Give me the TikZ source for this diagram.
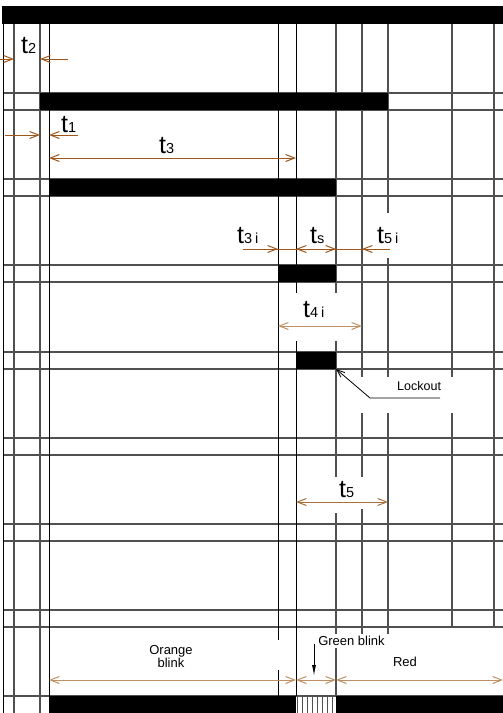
\documentclass[tikz,border=0pt]{standalone}
\usepackage{fontspec}
\setmainfont{Liberation Sans}
\usetikzlibrary{arrows.meta}
\definecolor{gridgray}{RGB}{80,80,80}
\definecolor{dimbrown}{RGB}{160,85,25}
\definecolor{dimmid}{RGB}{170,110,55}
\definecolor{dimtan}{RGB}{190,145,100}
\newcommand{\tsym}[1]{{\fontsize{25}{25}\selectfont t}{\fontsize{14.5}{14.5}\selectfont #1}}
\tikzset{
  gline/.style={gridgray, line width=1.15pt},
  bline/.style={black, line width=1pt},
  hatchline/.style={gridgray, line width=0.8pt},
  dimline/.style={line width=1pt},
  tlabel/.style={inner sep=0pt, anchor=base west},
  smalltext/.style={inner sep=0pt, font=\fontsize{13}{13}\selectfont},
  leader/.style={black, line width=0.8pt, -{Straight Barb[length=8pt,width=6pt]}},
  downarrow/.style={black, line width=0.9pt, -{Latex[length=11pt,width=4pt]}},
}
\begin{document}
\begin{tikzpicture}[x=1pt, y=-1pt, >={Straight Barb[length=9pt,width=7pt]}]
\useasboundingbox (0,0) rectangle (503,713);

% horizontal grid lines
\foreach \yy in {93,110,179,196,265,282,352,369,438,455,524,541,610,627,696}
  \draw[gline] (3,\yy) -- (503,\yy);

% vertical grid lines
\draw[bline] (3,24) -- (3,713);
\draw[gline] (14,24) -- (14,713);
\draw[gline] (40,24) -- (40,713);
\draw[bline] (49,24) -- (49,713);
\draw[bline] (278,24) -- (278,640) (278,670) -- (278,696);
\draw[bline] (296,24) -- (296,293) (296,341) -- (296,696);
\draw[gline] (336,24) -- (336,293) (336,341) -- (336,477) (336,513) -- (336,634) (336,648) -- (336,696);
\draw[gline] (362,24) -- (362,377) (362,413) -- (362,477) (362,509) -- (362,634);
\draw[gline] (388,24) -- (388,213) (388,258) -- (388,377) (388,413) -- (388,634);
\draw[gline] (452,24) -- (452,377) (452,413) -- (452,627);
\draw[gline] (494,24) -- (494,627);

% black bars
\fill[black] (2,6) rectangle (503,24);
\fill[black] (40,93) rectangle (388,110);
\fill[black] (49,179) rectangle (336,196);
\fill[black] (278,265) rectangle (336,282);
\fill[black] (296,352) rectangle (336,369);
\fill[black] (49,696) rectangle (296,713);
\fill[black] (336,696) rectangle (503,713);
\foreach \xx in {297,302,307,312,317,322,327,332}
  \draw[hatchline] (\xx,696) -- (\xx,713);

% coordinates for dimension arrows
\coordinate (t2a) at (0,59);   \coordinate (t2b) at (14,59);
\coordinate (t2c) at (68,59);  \coordinate (t2d) at (40,59);
\coordinate (t1a) at (5,135);  \coordinate (t1b) at (40,135);
\coordinate (t1c) at (78,135); \coordinate (t1d) at (49,135);
\coordinate (t3a) at (49,158); \coordinate (t3b) at (296,158);
\coordinate (rA) at (243,249); \coordinate (rB) at (278,249);
\coordinate (rC) at (296,249); \coordinate (rD) at (336,249);
\coordinate (rE) at (362,249); \coordinate (rF) at (390,249);
\coordinate (t4a) at (278,326); \coordinate (t4b) at (362,326);
\coordinate (t5a) at (296,502); \coordinate (t5b) at (388,502);
\coordinate (bA) at (49,680);  \coordinate (bB) at (296,680);
\coordinate (bC) at (336,680); \coordinate (bD) at (503,680);

% dimension arrows
\draw[dimline, dimbrown, ->] (t2a) -- (t2b);
\draw[dimline, dimbrown, ->] (t2c) -- (t2d);
\draw[dimline, dimbrown, ->] (t1a) -- (t1b);
\draw[dimline, dimbrown, ->] (t1c) -- (t1d);
\draw[dimline, dimbrown, <->] (t3a) -- (t3b);
\draw[dimline, dimbrown] (rA) -- (rF);
\draw[dimline, dimbrown, ->] (rA) -- (rB);
\draw[dimline, dimbrown, <->] (rC) -- (rD);
\draw[dimline, dimbrown, ->] (rF) -- (rE);
\draw[dimline, dimtan, <->] (t4a) -- (t4b);
\draw[dimline, dimmid, <->] (t5a) -- (t5b);
\draw[dimline, dimtan, <->] (bA) -- (bB);
\draw[dimline, dimtan, <->] (bB) -- (bC);
\draw[dimline, dimtan, <->] (bC) -- (bD);

% t labels
\node[tlabel] (lt2) at (21,53) {\tsym{2}};
\node[tlabel] (lt1) at (61,132) {\tsym{1}};
\node[tlabel] (lt3) at (159,153) {\tsym{3}};
\node[tlabel] (lt3i) at (237,243) {\tsym{3\hspace{3pt}i}};
\node[tlabel] (lts) at (310,243) {\tsym{s}};
\node[tlabel] (lt5i) at (377,243) {\tsym{5\hspace{3pt}i}};
\node[tlabel] (lt4i) at (303,317) {\tsym{4\hspace{3pt}i}};
\node[tlabel] (lt5) at (339,497) {\tsym{5}};

% Lockout
\node[smalltext, anchor=base west, font=\fontsize{12.5}{12.5}\selectfont] (lockout) at (397,390) {Lockout};
\coordinate (lockEnd) at (440,398);
\coordinate (lockKnee) at (370,398);
\coordinate (lockTip) at (336,369);
\draw[leader] (lockEnd) -- (lockKnee) -- (lockTip);

% bottom texts
\node[smalltext, align=center] (orange) at (171,657) {Orange\\blink};
\node[smalltext, anchor=base] (green) at (351.5,645) {Green blink};
\node[smalltext, anchor=base] (red) at (405,666) {Red};
\coordinate (gTop) at (314,644);
\coordinate (gBot) at (314,676);
\draw[downarrow] (gTop) -- (gBot);
\end{tikzpicture}
\end{document}
